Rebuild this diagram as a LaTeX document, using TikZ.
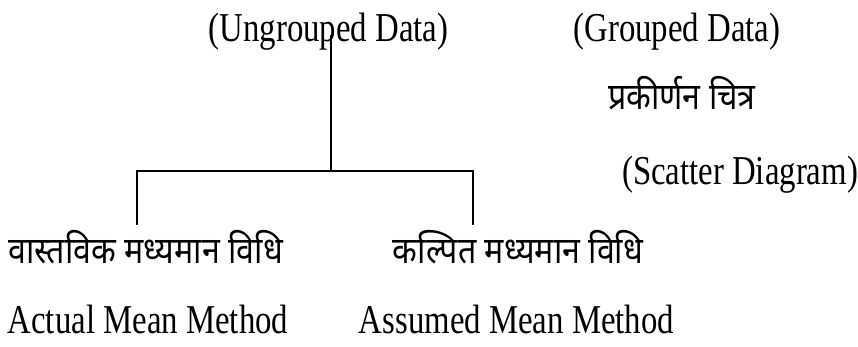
\documentclass[tikz,border=0pt]{standalone}
\usepackage{fontspec}
\newfontfamily\enfont[FakeStretch=0.8]{Liberation Serif}
\newfontfamily\hifont[Script=Devanagari,FakeStretch=0.87]{Noto Sans}
\tikzset{
  en/.style={inner sep=0pt, anchor=base, font=\enfont\fontsize{41}{41}\selectfont},
  hi/.style={inner sep=0pt, anchor=base, font=\hifont\fontsize{37}{37}\selectfont},
  link/.style={line width=1.6pt}
}
\begin{document}
\begin{tikzpicture}[x=1pt,y=-1pt]
\useasboundingbox (0,0) rectangle (858,347);
\node[en] (ug) at (328.5,42) {(Ungrouped Data)};
\node[en] (gd) at (677,42) {(Grouped Data)};
\node[hi] (pc) at (682,110) {प्रकीर्णन चित्र};
\node[en] (sd) at (740,185) {(Scatter Diagram)};
\node[hi] (hl) at (145.5,263) {वास्तविक मध्यमान विधि};
\node[hi] (hr) at (518,263) {कल्पित मध्यमान विधि};
\node[en] (el) at (148,333) {Actual Mean Method};
\node[en] (er) at (516.5,333) {Assumed Mean Method};
\coordinate (top) at (331,35);
\coordinate (jn) at (331,171);
\coordinate (lend) at (137,225);
\coordinate (rend) at (473,225);
\draw[link] (top) -- (jn);
\draw[link] (lend) |- (jn) -| (rend);
\end{tikzpicture}
\end{document}
